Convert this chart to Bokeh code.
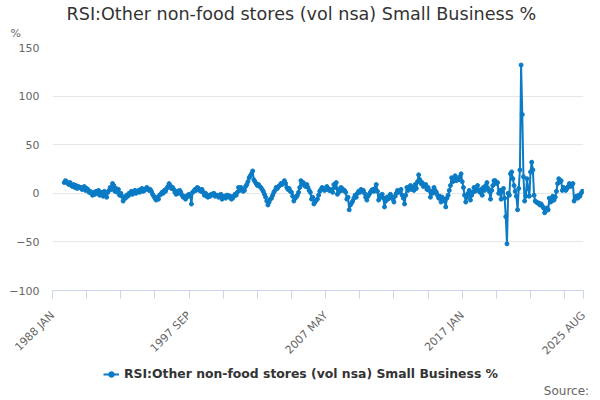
import pandas as pd
from bokeh.plotting import figure
from bokeh.layouts import column
from bokeh.models import (ColumnDataSource, Range1d, FixedTicker, Legend, LegendItem, Title)
from bokeh.embed import file_html
from bokeh.resources import INLINE

TITLE = "RSI:Other non-food stores (vol nsa) Small Business %"
SERIES = "RSI:Other non-food stores (vol nsa) Small Business %"
UNIT = "%"
SOURCE = "Source:"
START = "1988-11"
AXIS_START = "1988-01"
AXIS_END = "2025-08"

v1988 = [11, 13]
v1989 = [12, 10, 9, 11, 8, 7, 9, 6, 8, 5, 7, 6]
v1990 = [6, 4, 5, 7, 3, 5, 4, 1, 2, 0, -2, 1]
v1991 = [-1, 2, 0, 3, -2, 1, 0, -3, 2, -1, -4, 1]
v1992 = [3, 6, 4, 10, 8, 2, 5, 1, 4, -2, 0, -3]
v1993 = [-8, -4, -5, -2, -3, 0, -1, 2, -1, 1, 3, 0]
v1994 = [2, 3, 1, 4, 5, 2, 3, 4, 6, 5, 3, 4]
v1995 = [2, -1, -3, -5, -7, -4, -6, -2, -1, 1, 0, 3]
v1996 = [2, 5, 7, 10, 8, 5, 6, 4, 1, -1, 2, 0]
v1997 = [3, 1, -2, -4, -3, -6, -4, -2, -1, -3, -11, 1]
v1998 = [2, 4, 3, 6, 5, 3, 2, 4, 1, -2, 0, -3]
v1999 = [-4, -2, -3, -1, -1, 0, -3, -2, -2, -4, -3, -1]
v2000 = [-6, -4, -3, -5, -2, -2, -4, -3, -6, -5, -3, -1]
v2001 = [-2, 1, 6, 3, 6, 4, 2, 3, 7, 9, 12, 16]
v2002 = [18, 20, 23, 14, 12, 10, 8, 9, 7, 6, 4, 2]
v2003 = [-1, -4, -8, -12, -9, -6, -5, -2, 1, 3, 6, 5]
v2004 = [7, 8, 10, 9, 11, 13, 10, 6, 4, 5, 2, 1]
v2005 = [-3, -8, -5, -4, -2, 1, 6, 13, 10, 11, 8, 7]
v2006 = [9, 6, 3, 1, -6, -4, -11, -9, -7, -6, -2, 2]
v2007 = [4, 6, 5, 3, 4, 7, 5, 3, 3, 4, 1, 9]
v2008 = [6, 11, -1, 4, 2, 6, 5, 3, 3, 1, -6, -4]
v2009 = [-17, -12, -10, -8, -5, -2, -4, 0, 2, 1, 4, 3]
v2010 = [3, 0, -4, -7, -3, -1, 1, 3, 4, 2, 5, 9]
v2011 = [2, -7, -4, -2, -1, -5, -14, -8, -4, -6, -3, -1]
v2012 = [-4, -6, -9, -3, 0, 3, 1, 2, 4, -2, -5, -11]
v2013 = [-2, 6, 3, 5, 8, 4, 6, 3, 9, 5, 12, 19]
v2014 = [14, 10, 11, 7, 8, 9, 4, 6, 3, -4, 2, 0]
v2015 = [6, 3, 1, -2, -5, -3, -9, -4, -6, -8, -14, -5]
v2016 = [-2, 3, 8, 16, 12, 14, 18, 13, 15, 14, 17, 20]
v2017 = [12, 6, -2, -9, -4, 0, 3, -7, -2, 1, 6, 2]
v2018 = [4, 8, 3, 1, 4, -2, 6, 3, 8, 11, 5, 2]
v2019 = [-6, 3, 8, 13, 13, 10, 11, 0, 3, -6, 3, 5]
v2020 = [-5, -24, -52, 0, -2, 20, 22, 15, 8, 2, -3, -17]
v2021 = [5, 24, 132, 81, 17, -8, -3, 15, 5, -3, 22, 32]
v2022 = [24, -2, -8, -9, -10, -10, -12, -11, -13, -15, -20, -18]
v2023 = [-15, -17, -5, -9, -8, -3, -7, -4, 2, 10, 15, 12]
v2024 = [13, 3, 6, 5, 3, 5, 7, 10, 7, 8, 10, -8]
v2025 = [-5, -3, -5, -2, -3, 0, 2, 2]

values = (v1988 + v1989 + v1990 + v1991 + v1992 + v1993 + v1994 + v1995 + v1996 + v1997
          + v1998 + v1999 + v2000 + v2001 + v2002 + v2003 + v2004 + v2005 + v2006 + v2007
          + v2008 + v2009 + v2010 + v2011 + v2012 + v2013 + v2014 + v2015 + v2016 + v2017
          + v2018 + v2019 + v2020 + v2021 + v2022 + v2023 + v2024 + v2025)

y_ticks = [-100, -50, 0, 50, 100, 150]
TICK_STEP = 29

MON = ["JAN", "FEB", "MAR", "APR", "MAY", "JUN", "JUL", "AUG", "SEP", "OCT", "NOV", "DEC"]
axis_periods = pd.period_range(AXIS_START, AXIS_END, freq="M")
base = axis_periods[0]

def midx(p):
    return (p.year - base.year) * 12 + (p.month - base.month)

periods = pd.period_range(START, periods=len(values), freq="M")
xs = [midx(p) for p in periods]
last = midx(axis_periods[-1])

all_ticks = list(range(0, last + 1, TICK_STEP))
major = [t for i, t in enumerate(all_ticks) if i % 4 == 0] + [last]
minor = [t for i, t in enumerate(all_ticks) if i % 4 != 0]
labels = {t: f"{axis_periods[t].year} {MON[axis_periods[t].month - 1]}" for t in major}

src = ColumnDataSource(dict(x=xs, y=values))

FONT = "DejaVu Sans"
BLUE = "#0a7bc4"

# ---- main chart ----
W = 600
H1, H2 = 365, 35
L, R, T, B = 52, 17, 47, 73
p = figure(width=W, height=H1, output_backend="svg", toolbar_location=None,
           x_range=Range1d(0, last), y_range=Range1d(-100, 150),
           min_border_left=L, min_border_right=R, min_border_top=T, min_border_bottom=B)
p.outline_line_color = None
p.background_fill_color = "white"
p.border_fill_color = "white"

ln = p.line("x", "y", source=src, line_color=BLUE, line_width=2)
sc = p.scatter("x", "y", source=src, size=4, fill_color=BLUE, line_color=BLUE)

p.xgrid.visible = False
p.ygrid.grid_line_color = "#e6e6e6"
p.ygrid.ticker = FixedTicker(ticks=y_ticks)
p.yaxis.ticker = FixedTicker(ticks=y_ticks)
p.yaxis.axis_line_color = None
p.yaxis.major_tick_line_color = None
p.yaxis.minor_tick_line_color = None
p.yaxis.major_label_text_font = FONT
p.yaxis.major_label_text_font_size = "11px"
p.yaxis.major_label_text_color = "#666666"
p.yaxis.major_label_standoff = 7

p.xaxis.ticker = FixedTicker(ticks=major, minor_ticks=minor)
p.xaxis.major_label_overrides = labels
p.xaxis.major_label_orientation = 0.785398
p.xaxis.axis_line_color = "#ccd6eb"
p.xaxis.major_tick_line_color = "#ccd6eb"
p.xaxis.minor_tick_line_color = "#ccd6eb"
p.xaxis.major_tick_in = 0
p.xaxis.major_tick_out = 8
p.xaxis.minor_tick_in = 0
p.xaxis.minor_tick_out = 8
p.xaxis.major_label_text_font = FONT
p.xaxis.major_label_text_font_size = "11px"
p.xaxis.major_label_text_color = "#666666"
p.xaxis.major_label_standoff = 15

p.add_layout(Title(text=UNIT, align="left", offset=-42, standoff=16,
                   text_font=FONT, text_font_size="11px", text_color="#666666",
                   text_font_style="normal"), "above")
p.add_layout(Title(text=TITLE, align="left", offset=14, standoff=-14,
                   text_font=FONT, text_font_size="17.6px", text_color="#333333",
                   text_font_style="normal"), "above")

# ---- legend / source strip (frame aligns with the chart's frame) ----
q = figure(width=W, height=H2, output_backend="svg", toolbar_location=None,
           x_range=Range1d(L, W - R), y_range=Range1d(0, 1),
           min_border_left=0, min_border_right=0, min_border_top=0, min_border_bottom=0,
           x_axis_location="below", y_axis_location=None)
q.outline_line_color = None
q.xgrid.visible = False
q.ygrid.visible = False
q.border_fill_color = "white"

# "Source:" note written as the strip's single axis label
SOURCE_X = 566
q.xaxis.ticker = FixedTicker(ticks=[SOURCE_X])
q.xaxis.major_label_overrides = {SOURCE_X: SOURCE}
q.xaxis.axis_line_color = None
q.xaxis.major_tick_line_color = None
q.xaxis.minor_tick_line_color = None
q.xaxis.major_tick_out = 0
q.xaxis.major_tick_in = 0
q.xaxis.major_label_standoff = 0
q.xaxis.major_label_text_font = FONT
q.xaxis.major_label_text_font_size = "12px"
q.xaxis.major_label_text_color = "#666666"

proxy = ColumnDataSource(dict(x=[float("nan")], y=[float("nan")]))
pl = q.line("x", "y", source=proxy, line_color=BLUE, line_width=2)
ps = q.scatter("x", "y", source=proxy, size=4, fill_color=BLUE, line_color=BLUE)

legend = Legend(items=[LegendItem(label=SERIES, renderers=[pl, ps])],
                location=(51, 2), orientation="horizontal",
                label_text_font=FONT, label_text_font_size="12.4px", label_text_font_style="bold",
                label_text_color="#333333", border_line_color=None, background_fill_alpha=0,
                glyph_width=16, glyph_height=14, label_standoff=5, padding=0, margin=0,
                label_height=14)
q.add_layout(legend, "center")

layout = column(p, q, spacing=0)
open("out.html", "w").write(file_html(layout, INLINE))
